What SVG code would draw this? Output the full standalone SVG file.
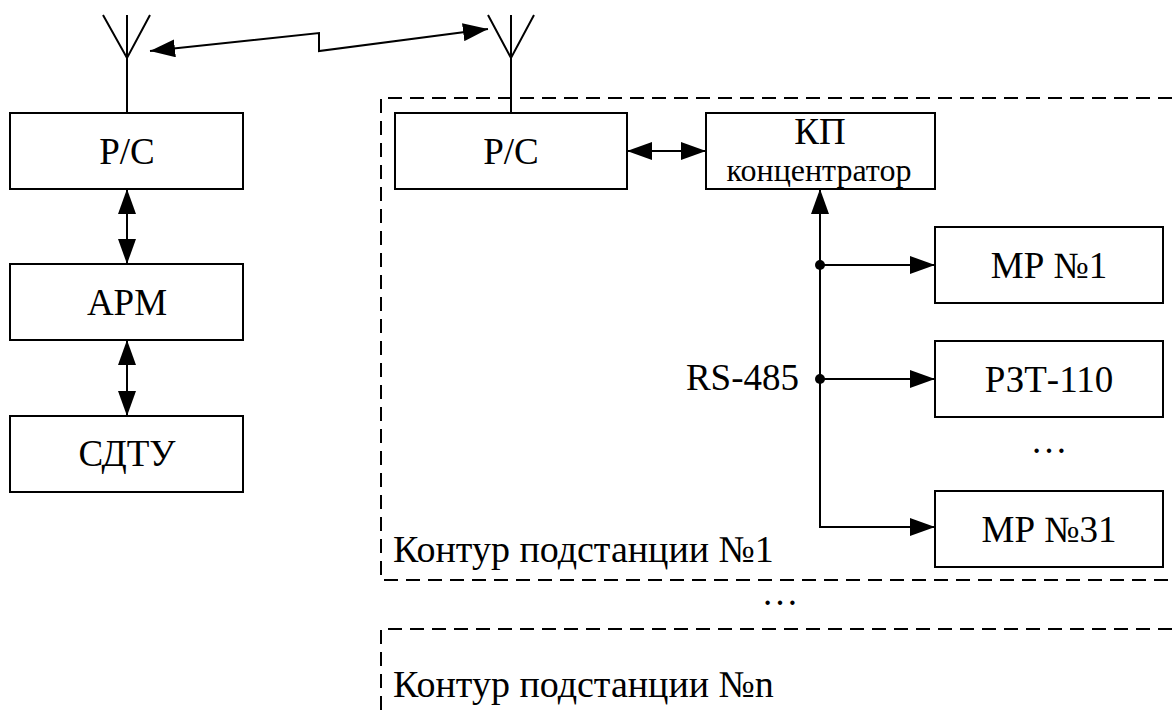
<svg xmlns="http://www.w3.org/2000/svg" width="1172" height="715" viewBox="0 0 1172 715">
<style>
.box{fill:#fff;stroke:#000;stroke-width:2}
.ln{fill:none;stroke:#000;stroke-width:2}
.dash{fill:none;stroke:#000;stroke-width:2;stroke-dasharray:14 8}
text{fill:#000;font-family:'Liberation Serif','Times New Roman',serif}
.t{font-size:37px}
.c{font-size:38px}
.s{font-size:32px}
</style>
<defs>
<marker id="ah" markerUnits="userSpaceOnUse" markerWidth="26" markerHeight="18" refX="25" refY="9" orient="auto-start-reverse">
<path d="M0,0 L25,9 L0,18 Z" fill="#000"/>
</marker>
</defs>
<rect width="1172" height="715" fill="#fff"/>
<g id="contour1">
<path class="dash" d="M1172,98 H381 V580 H1172"/>
<text class="c" x="393" y="562">Контур подстанции №1</text>
</g>
<g id="contourN">
<path class="dash" d="M1172,629 H381 V715"/>
<text class="c" x="393" y="697">Контур подстанции №n</text>
</g>
<text class="t" x="780" y="605" text-anchor="middle">…</text>
<g id="antenna1">
<path class="ln" d="M103,15 L127,58 L150,15 M127,15 V113"/>
</g>
<g id="antenna2">
<path class="ln" d="M488,15 L511,58 L534,15 M511,15 V113"/>
</g>
<g id="rs1">
<rect class="box" x="10" y="113" width="233" height="76"/>
<text class="t" x="127" y="164" text-anchor="middle">Р/С</text>
</g>
<g id="arm">
<rect class="box" x="10" y="264" width="233" height="76"/>
<text class="t" x="127" y="315" text-anchor="middle">АРМ</text>
</g>
<g id="sdtu">
<rect class="box" x="10" y="416" width="233" height="76"/>
<text class="t" x="127" y="466" text-anchor="middle">СДТУ</text>
</g>
<g id="rs2">
<rect class="box" x="395" y="113" width="232" height="76"/>
<text class="t" x="511" y="164" text-anchor="middle">Р/С</text>
</g>
<g id="kp">
<rect class="box" x="706" y="113" width="229" height="76"/>
<text class="t" x="820" y="144" text-anchor="middle">КП</text>
<text class="s" x="819" y="181" text-anchor="middle">концентратор</text>
</g>
<g id="mr1">
<rect class="box" x="935" y="227" width="228" height="76"/>
<text class="t" x="1049" y="278" text-anchor="middle">МР №1</text>
</g>
<g id="rzt">
<rect class="box" x="935" y="341" width="228" height="76"/>
<text class="t" x="1049" y="392" text-anchor="middle">РЗТ-110</text>
</g>
<text class="t" x="1049" y="453" text-anchor="middle">…</text>
<g id="mr31">
<rect class="box" x="935" y="491" width="228" height="76"/>
<text class="t" x="1049" y="542" text-anchor="middle">МР №31</text>
</g>
<text class="t" x="799" y="390" text-anchor="end">RS-485</text>
<g id="connectors">
<path class="ln" d="M150,51 L319,33 V51 L488,29" marker-start="url(#ah)" marker-end="url(#ah)"/>
<path class="ln" d="M127,189 V264" marker-start="url(#ah)" marker-end="url(#ah)"/>
<path class="ln" d="M127,340 V416" marker-start="url(#ah)" marker-end="url(#ah)"/>
<path class="ln" d="M627,151 H706" marker-start="url(#ah)" marker-end="url(#ah)"/>
<path class="ln" d="M935,527 H820 V189" marker-start="url(#ah)" marker-end="url(#ah)"/>
<path class="ln" d="M820,265 H935" marker-end="url(#ah)"/>
<path class="ln" d="M820,379 H935" marker-end="url(#ah)"/>
<circle cx="820" cy="265" r="5" fill="#000"/>
<circle cx="820" cy="379" r="5" fill="#000"/>
</g>
</svg>
